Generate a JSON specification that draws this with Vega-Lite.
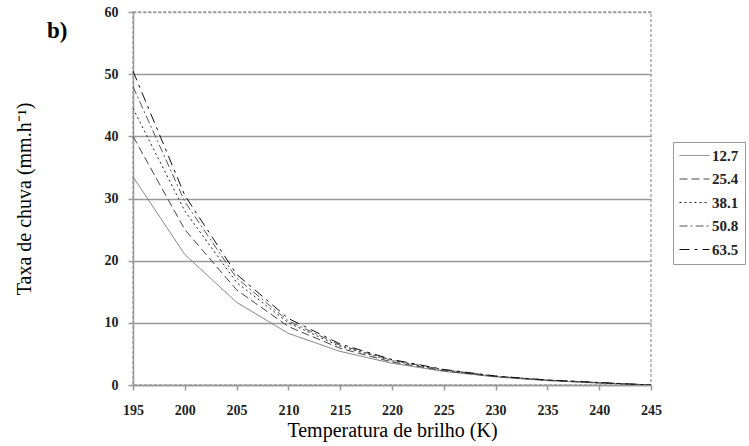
{
  "$schema": "https://vega.github.io/schema/vega-lite/v6.json",
  "autosize": {"type": "none"},
  "padding": {"left": 133, "top": 12, "right": 98, "bottom": 61},
  "width": 518,
  "height": 373,
  "background": "white",
  "title": {"text": "b)", "anchor": "start", "frame": "group", "font": "Liberation Serif", "fontWeight": "bold", "fontSize": 23, "color": "#000", "dx": -86, "dy": 42},
  "config": {
    "view": {"stroke": "#aaa", "strokeDash": [3, 2], "strokeWidth": 1.5},
    "axis": {"labelFont": "Liberation Serif", "labelFontWeight": "bold", "labelFontSize": 14, "labelColor": "#222", "titleFont": "Liberation Serif", "titleFontWeight": "normal", "titleFontSize": 20, "titleColor": "#000", "domainColor": "#999", "domainWidth": 1.5, "tickColor": "#999", "tickSize": 5, "tickWidth": 1.5}
  },
  "data": {"values": [
    {"T":195,"s":"12.7","v":33.5},{"T":200,"s":"12.7","v":21},{"T":205,"s":"12.7","v":13.3},{"T":210,"s":"12.7","v":8.3},{"T":215,"s":"12.7","v":5.4},{"T":220,"s":"12.7","v":3.5},{"T":225,"s":"12.7","v":2.2},{"T":230,"s":"12.7","v":1.3},{"T":235,"s":"12.7","v":0.7},{"T":240,"s":"12.7","v":0.3},{"T":245,"s":"12.7","v":0},
    {"T":195,"s":"25.4","v":40},{"T":200,"s":"25.4","v":25},{"T":205,"s":"25.4","v":15.3},{"T":210,"s":"25.4","v":9.4},{"T":215,"s":"25.4","v":5.9},{"T":220,"s":"25.4","v":3.7},{"T":225,"s":"25.4","v":2.3},{"T":230,"s":"25.4","v":1.35},{"T":235,"s":"25.4","v":0.75},{"T":240,"s":"25.4","v":0.35},{"T":245,"s":"25.4","v":0},
    {"T":195,"s":"38.1","v":44.5},{"T":200,"s":"38.1","v":28},{"T":205,"s":"38.1","v":16.5},{"T":210,"s":"38.1","v":10},{"T":215,"s":"38.1","v":6.2},{"T":220,"s":"38.1","v":3.9},{"T":225,"s":"38.1","v":2.4},{"T":230,"s":"38.1","v":1.4},{"T":235,"s":"38.1","v":0.8},{"T":240,"s":"38.1","v":0.35},{"T":245,"s":"38.1","v":0},
    {"T":195,"s":"50.8","v":48},{"T":200,"s":"50.8","v":29.5},{"T":205,"s":"50.8","v":17.2},{"T":210,"s":"50.8","v":10.3},{"T":215,"s":"50.8","v":6.4},{"T":220,"s":"50.8","v":4},{"T":225,"s":"50.8","v":2.45},{"T":230,"s":"50.8","v":1.4},{"T":235,"s":"50.8","v":0.8},{"T":240,"s":"50.8","v":0.4},{"T":245,"s":"50.8","v":0},
    {"T":195,"s":"63.5","v":50.5},{"T":200,"s":"63.5","v":30.5},{"T":205,"s":"63.5","v":17.8},{"T":210,"s":"63.5","v":10.7},{"T":215,"s":"63.5","v":6.6},{"T":220,"s":"63.5","v":4.1},{"T":225,"s":"63.5","v":2.5},{"T":230,"s":"63.5","v":1.45},{"T":235,"s":"63.5","v":0.8},{"T":240,"s":"63.5","v":0.4},{"T":245,"s":"63.5","v":0}
  ]},
  "mark": {"type": "line", "clip": true},
  "encoding": {
    "x": {"field": "T", "type": "quantitative", "scale": {"domain": [195, 245], "nice": false, "zero": false},
      "axis": {"values": [195,200,205,210,215,220,225,230,235,240,245], "grid": false, "title": "Temperatura de brilho (K)", "labelPadding": 13, "titleY": 35, "titleBaseline": "top", "labelFlush": false}},
    "y": {"field": "v", "type": "quantitative", "scale": {"domain": [0, 60], "nice": false},
      "axis": {"values": [0,10,20,30,40,50,60], "grid": true, "gridColor": "#999", "gridWidth": 1.5, "gridDash": {"condition": {"test": "datum.value == 60", "value": [3, 2]}, "value": []}, "title": "Taxa de chuva (mm.h⁻¹)", "titleX": -99, "labelPadding": 10}},
    "color": {"field": "s", "type": "nominal", "scale": {"domain": ["12.7","25.4","38.1","50.8","63.5"], "range": ["#777","#444","#222","#555","#111"]},
      "legend": {"orient": "none", "legendX": 540, "legendY": 130, "title": null, "symbolType": "stroke", "symbolSize": 900, "clipHeight": 15, "labelFont": "Liberation Serif", "labelFontWeight": "bold", "labelFontSize": 15, "labelColor": "#222", "rowPadding": 7.5, "strokeColor": "#999", "padding": 6, "fillColor": "white", "labelOffset": 2}},
    "strokeDash": {"field": "s", "type": "nominal", "scale": {"domain": ["12.7","25.4","38.1","50.8","63.5"], "range": [[1,0],[8,4],[2,3],[8,3,2,3],[10,5,3,5]]}},
    "strokeWidth": {"field": "s", "type": "nominal", "scale": {"domain": ["12.7","25.4","38.1","50.8","63.5"], "range": [1,1,1.5,1.5,2.5]}}
  }
}
